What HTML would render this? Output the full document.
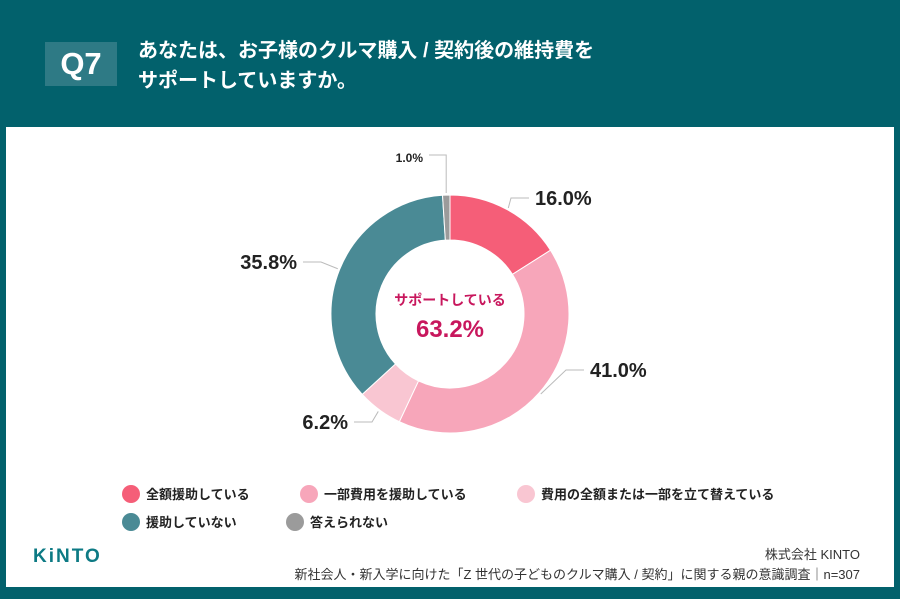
<!DOCTYPE html>
<html><head><meta charset="utf-8"><style>
body{margin:0;width:900px;height:599px;background:#02616c;position:relative;overflow:hidden;font-family:"Liberation Sans","Noto Sans CJK JP",sans-serif}
.card{position:absolute;left:6px;top:127px;width:888px;height:460px;background:#fff}
.q{position:absolute;left:45px;top:42px;width:72px;height:44px;background:#2e7a85;color:#fff;font-size:31px;font-weight:bold;text-align:center;line-height:44px}
.t{position:absolute;left:138px;top:36px;color:#fff;font-size:20px;font-weight:bold;line-height:30px}
.leg{position:absolute;font-size:13px;font-weight:bold;color:#222;display:flex;align-items:center}
.leg i{display:inline-block;width:18px;height:18px;border-radius:50%;margin-right:6px}
.foot{position:absolute;right:40px;font-size:13px;color:#333;text-align:right}
</style></head><body>
<div class="q">Q7</div>
<div class="t">あなたは、お子様のクルマ購入 / 契約後の維持費を<br>サポートしていますか。</div>
<div class="card"></div>
<svg id="c" width="900" height="599" style="position:absolute;left:0;top:0"></svg>
<div class="leg" style="left:122px;top:484px"><i style="background:#f55e78"></i>全額援助している</div>
<div class="leg" style="left:300px;top:484px"><i style="background:#f7a6ba"></i>一部費用を援助している</div>
<div class="leg" style="left:517px;top:484px"><i style="background:#f9c6d2"></i>費用の全額または一部を立て替えている</div>
<div class="leg" style="left:122px;top:512px"><i style="background:#4a8a95"></i>援助していない</div>
<div class="leg" style="left:286px;top:512px"><i style="background:#9b9b9b"></i>答えられない</div>
<div style="position:absolute;left:33px;top:546px;color:#0d7a84;font-size:19px;font-weight:bold;letter-spacing:2px">KiNTO</div>
<div class="foot" style="top:544px">株式会社 KINTO</div>
<div class="foot" style="top:564px">新社会人・新入学に向けた「Z 世代の子どものクルマ購入 / 契約」に関する親の意識調査｜n=307</div>
<script>
const categories=["全額援助している","一部費用を援助している","費用の全額または一部を立て替えている","援助していない","答えられない"];
const values=[16.0,41.0,6.2,35.8,1.0];
const labels=["16.0%","41.0%","6.2%","35.8%","1.0%"];
const colors=["#f55e78","#f7a6ba","#f9c6d2","#4a8a95","#9b9b9b"];
const svg=document.getElementById('c');const NS="http://www.w3.org/2000/svg";
const cx=450,cy=314,R=119,r=74;
function pt(a,rad){return [cx+rad*Math.sin(a),cy-rad*Math.cos(a)];}
const tot=values.reduce((a,b)=>a+b,0);let acc=0;
const lp=[[535,198,"start"],[590,370,"start"],[348,422,"end"],[297,262,"end"],[423,155,"end"]];
values.forEach((v,i)=>{
 const a0=acc/tot*2*Math.PI,a1=(acc+v)/tot*2*Math.PI;acc+=v;
 const [x0,y0]=pt(a0,R),[x1,y1]=pt(a1,R),[x2,y2]=pt(a1,r),[x3,y3]=pt(a0,r);
 const lg=(a1-a0)>Math.PI?1:0;
 const p=document.createElementNS(NS,'path');
 p.setAttribute('d',`M${x0},${y0}A${R},${R} 0 ${lg} 1 ${x1},${y1}L${x2},${y2}A${r},${r} 0 ${lg} 0 ${x3},${y3}Z`);
 p.setAttribute('fill',colors[i]);p.setAttribute('stroke','#fff');p.setAttribute('stroke-width','1');
 
 
 svg.appendChild(p);
 const am=(a0+a1)/2,[ex,ey]=pt(am,R+2);
 const L=lp[i];const right=L[2]=="start";const endx=right?L[0]-6:L[0]+6;const elx=right?endx-18:endx+18;
 const ln=document.createElementNS(NS,'polyline');
 let pts=i==4?`${ex},${ey} ${ex},${L[1]} ${endx},${L[1]}`:`${ex},${ey} ${elx},${L[1]} ${endx},${L[1]}`;
 ln.setAttribute('points',pts);ln.setAttribute('fill','none');ln.setAttribute('stroke','#bbb');ln.setAttribute('stroke-width','1');
 
 
 svg.appendChild(ln);
 const t=document.createElementNS(NS,'text');t.textContent=labels[i];
 t.setAttribute('x',L[0]);t.setAttribute('y',L[1]+7);t.setAttribute('text-anchor',L[2]);
 t.setAttribute('font-size',i==4?'12':'20');t.setAttribute('font-weight','bold');t.setAttribute('fill','#222');
 t.setAttribute('font-family','Liberation Sans, sans-serif');
 
 
 svg.appendChild(t);
});
const c1=document.createElementNS(NS,'text');c1.textContent="サポートしている";c1.setAttribute('x',cx);c1.setAttribute('y',305);c1.setAttribute('text-anchor','middle');c1.setAttribute('font-size','14');c1.setAttribute('font-weight','bold');c1.setAttribute('fill','#c8175d');c1.setAttribute('font-family','Liberation Sans, Noto Sans CJK JP, sans-serif');


svg.appendChild(c1);
const c2=document.createElementNS(NS,'text');c2.textContent="63.2%";c2.setAttribute('x',cx);c2.setAttribute('y',337);c2.setAttribute('text-anchor','middle');c2.setAttribute('font-size','24');c2.setAttribute('font-weight','bold');c2.setAttribute('fill','#c8175d');c2.setAttribute('font-family','Liberation Sans, sans-serif');


svg.appendChild(c2);
</script>
</body></html>
